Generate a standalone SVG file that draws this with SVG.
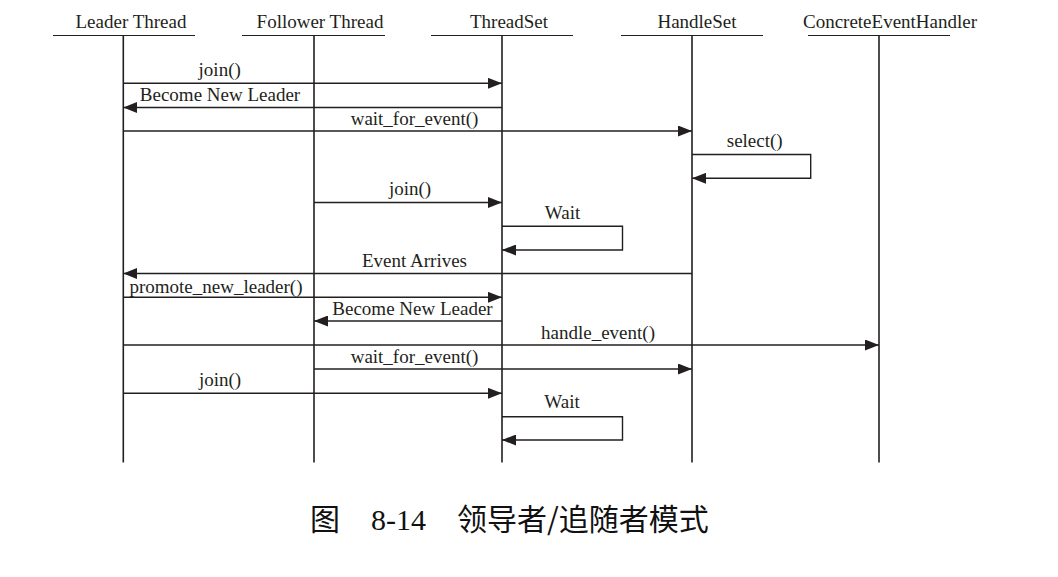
<svg xmlns="http://www.w3.org/2000/svg" width="1058" height="577" viewBox="0 0 1058 577">
<style>
.hd{font-family:"Liberation Serif","Times New Roman",serif;font-size:19px;fill:#231f20;text-anchor:middle}
.lb{font-family:"Liberation Serif","Times New Roman",serif;font-size:19px;fill:#231f20;text-anchor:middle}
.ul{stroke:#231f20;stroke-width:1.2;fill:none}
.ll{stroke:#231f20;stroke-width:1.6;fill:none}
.msg{stroke:#231f20;stroke-width:1.4;fill:none;marker-end:url(#ah)}
.cap{font-family:"Noto Sans CJK SC","Noto Sans",sans-serif;font-size:30px;fill:#111}
.capn{font-family:"Liberation Serif","Times New Roman",serif;font-size:30px;fill:#111}
</style>
<defs>
<marker id="ah" viewBox="0 0 14 11" refX="14" refY="5.5" markerWidth="14" markerHeight="11" orient="auto" markerUnits="userSpaceOnUse">
<path d="M0,0 L14,5.5 L0,11 Z" fill="#231f20"/>
</marker>
</defs>
<rect width="1058" height="577" fill="#fff"/>
<g id="leader-thread">
<text class="hd" x="131" y="28.3">Leader Thread</text>
<line class="ul" x1="53" y1="35.5" x2="195" y2="35.5"/>
<line class="ll" x1="123.3" y1="35.5" x2="123.3" y2="462.5"/>
</g>
<g id="follower-thread">
<text class="hd" x="320" y="28.3">Follower Thread</text>
<line class="ul" x1="242" y1="35.5" x2="385" y2="35.5"/>
<line class="ll" x1="314" y1="35.5" x2="314" y2="462.5"/>
</g>
<g id="threadset">
<text class="hd" x="509" y="28.3">ThreadSet</text>
<line class="ul" x1="431" y1="35.5" x2="573" y2="35.5"/>
<line class="ll" x1="502" y1="35.5" x2="502" y2="462.5"/>
</g>
<g id="handleset">
<text class="hd" x="697" y="28.3">HandleSet</text>
<line class="ul" x1="621" y1="35.5" x2="763" y2="35.5"/>
<line class="ll" x1="692" y1="35.5" x2="692" y2="462.5"/>
</g>
<g id="concrete-event-handler">
<text class="hd" x="890" y="28.3">ConcreteEventHandler</text>
<line class="ul" x1="808" y1="35.5" x2="950" y2="35.5"/>
<line class="ll" x1="879" y1="35.5" x2="879" y2="462.5"/>
</g>
<g id="connectors">
<path class="msg" d="M123.3,83.3 H502"/>
<path class="msg" d="M502,107.5 H123.3"/>
<path class="msg" d="M123.3,131 H692"/>
<path class="msg" d="M692,154.5 H810.7 V178.3 H692"/>
<path class="msg" d="M314,202.5 H502"/>
<path class="msg" d="M502,226.3 H622.5 V250 H502"/>
<path class="msg" d="M692,273.5 H123.3"/>
<path class="msg" d="M123.3,297.3 H502"/>
<path class="msg" d="M502,321 H314"/>
<path class="msg" d="M123.3,345 H879"/>
<path class="msg" d="M314,369 H692"/>
<path class="msg" d="M123.3,393.3 H502"/>
<path class="msg" d="M502,416.7 H622.5 V440 H502"/>
</g>
<g id="labels">
<text class="lb" x="219.7" y="76">join()</text>
<text class="lb" x="220" y="101">Become New Leader</text>
<text class="lb" x="414.5" y="124.5">wait_for_event()</text>
<text class="lb" x="754.7" y="146.7">select()</text>
<text class="lb" x="410" y="195">join()</text>
<text class="lb" x="562.5" y="219.3">Wait</text>
<text class="lb" x="414.5" y="266.5">Event Arrives</text>
<text class="lb" x="216" y="292.5">promote_new_leader()</text>
<text class="lb" x="412.5" y="315">Become New Leader</text>
<text class="lb" x="598" y="338.5">handle_event()</text>
<text class="lb" x="414.5" y="362.5">wait_for_event()</text>
<text class="lb" x="220" y="386">join()</text>
<text class="lb" x="562" y="408.3">Wait</text>
</g>
<g id="caption">
<text class="cap" x="310" y="530">图</text>
<text class="capn" x="371" y="530">8-14</text>
<text class="cap" x="457" y="530">领导者/追随者模式</text>
</g>
</svg>
